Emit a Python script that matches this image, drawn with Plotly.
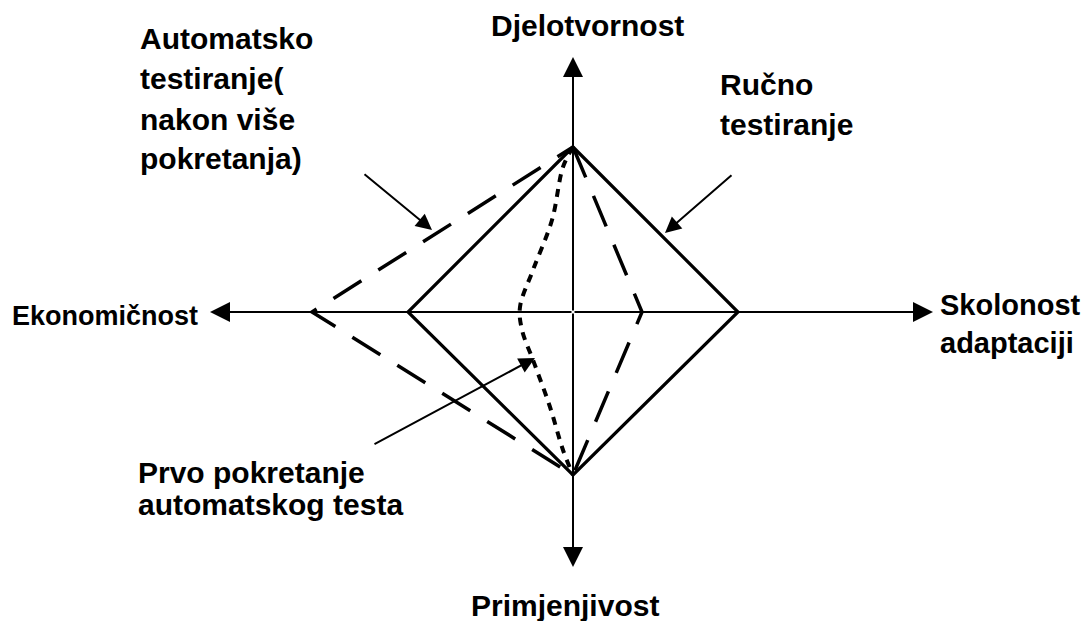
import plotly.graph_objects as go

# ---- data (diagram units: pixels relative to axis centre, y up) ----
axis_names = ["Djelotvornost", "Skolonost adaptaciji", "Primjenjivost", "Ekonomičnost"]
axis_tip_top = 255
axis_tip_right = 360
axis_tip_bottom = -255
axis_tip_left = -363

# values on axes: [top, right, bottom, left]
manual_values = [165, 165, 163, 165]          # Ručno testiranje (solid)
auto_many_values = [165, 69, 163, 261]        # Automatsko testiranje nakon više pokretanja (dashed)
first_run_x = [0, -10, -21, -40, -53, -51, -40, -23, -10, 0]   # Prvo pokretanje (dotted)
first_run_y = [165, 145, 92, 42, 5, -18, -48, -95, -138, -163]

# pointer arrows: tail (x, y) -> tip (x, y)
pointer_tail_x = [-210, 160, -200]
pointer_tail_y = [139, 138, -133]
pointer_tip_x = [-141, 92, -38]
pointer_tip_y = [82, 79, -46]

# label lines
label_lines = ["Djelotvornost", "Ekonomičnost", "Primjenjivost",
               "Skolonost", "adaptaciji",
               "Automatsko", "testiranje(", "nakon više", "pokretanja)",
               "Ručno", "testiranje",
               "Prvo pokretanje", "automatskog testa"]
label_x = [14.5, -468.5, -8, 365, 365, -435, -435, -435, -435, 145, 145, -437, -437]
label_y = [287, -4, -293, 7, -31, 274, 234, 193, 154, 228, 188, -160, -192]
label_anchor = ["center", "center", "center", "left", "left",
                "left", "left", "left", "left", "left", "left", "left", "left"]
label_size = [30, 27, 30, 29, 29, 30, 30, 30, 30, 30, 30, 30, 30]

# page offset compensation (browser body margin)
page_offset = 8


def polygon(vals):
    t, r, b, l = vals
    return [0, r, 0, -l, 0], [t, 0, -b, 0, t]


fig = go.Figure()

mx, my = polygon(manual_values)
fig.add_trace(go.Scatter(x=mx, y=my, mode="lines",
                         line=dict(color="black", width=3.2), hoverinfo="skip"))

ax_, ay_ = polygon(auto_many_values)
fig.add_trace(go.Scatter(x=ax_, y=ay_, mode="lines",
                         line=dict(color="black", width=3.5, dash="33px,20px"), hoverinfo="skip"))

fig.add_trace(go.Scatter(x=first_run_x, y=first_run_y, mode="lines",
                         line=dict(color="black", width=4, dash="8px,7px", shape="spline"),
                         hoverinfo="skip"))

annotations = []
# main axes with arrow heads
for tx, ty in [(0, axis_tip_top), (axis_tip_right, 0), (0, axis_tip_bottom), (axis_tip_left, 0)]:
    annotations.append(dict(x=tx, y=ty, ax=0, ay=0, xref="x", yref="y", axref="x", ayref="y",
                            text="", showarrow=True, arrowhead=2, arrowsize=2,
                            arrowwidth=2, arrowcolor="black"))
# pointer arrows
for i in range(len(pointer_tip_x)):
    annotations.append(dict(x=pointer_tip_x[i], y=pointer_tip_y[i],
                            ax=pointer_tail_x[i], ay=pointer_tail_y[i],
                            xref="x", yref="y", axref="x", ayref="y",
                            text="", showarrow=True, arrowhead=2, arrowsize=1.6,
                            arrowwidth=2, arrowcolor="black"))
# labels
for i, txt in enumerate(label_lines):
    annotations.append(dict(x=label_x[i], y=label_y[i], xref="x", yref="y",
                            text="<b>" + txt + "</b>", showarrow=False,
                            xanchor=label_anchor[i], yanchor="middle",
                            font=dict(family="Arial, 'Liberation Sans', sans-serif",
                                      size=label_size[i], color="black")))

fig.update_layout(
    width=1090, height=621,
    margin=dict(l=0, r=0, t=0, b=0),
    paper_bgcolor="white", plot_bgcolor="white",
    showlegend=False,
    annotations=annotations,
    xaxis=dict(range=[-573 + page_offset, 517 + page_offset], visible=False, fixedrange=True),
    yaxis=dict(range=[-309 - page_offset, 312 - page_offset], visible=False, fixedrange=True),
)

fig.write_html("out.html")
